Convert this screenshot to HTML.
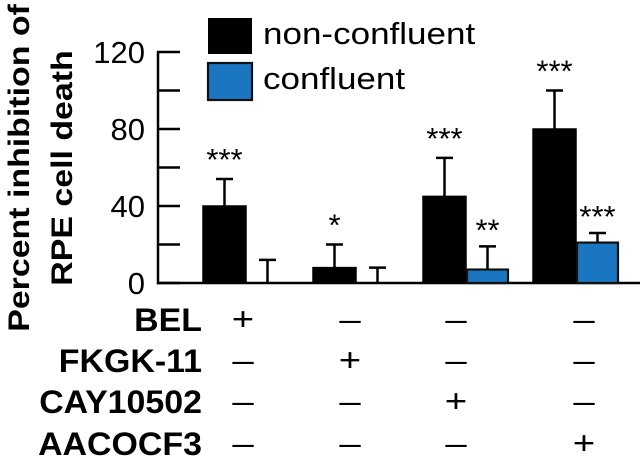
<!DOCTYPE html>
<html><head><meta charset="utf-8"><style>
html,body{margin:0;padding:0;background:#fff;width:640px;height:464px;overflow:hidden}
svg{display:block}
text{font-family:"Liberation Sans",Arial,sans-serif;fill:#000}
</style></head><body>
<svg id="chart" width="640" height="464" viewBox="0 0 640 464" xmlns="http://www.w3.org/2000/svg"></svg>
<script>
const categories = ["BEL", "FKGK-11", "CAY10502", "AACOCF3"];
const nonConfluent = [40, 8, 45, 80];
const nonConfluentErr = [14, 12, 20, 20];
const confluent = [0, 0, 7, 21];
const confluentErr = [12, 8, 12, 5];
const nonConfluentSig = ["***", "*", "***", "***"];
const confluentSig = ["", "", "**", "***"];
const yTicks = [0, 40, 80, 120];
const yMinorTicks = [20, 60, 100];
const treatments = ["BEL", "FKGK-11", "CAY10502", "AACOCF3"];

const svg = document.getElementById('chart');
const NS = 'http://www.w3.org/2000/svg';
const y0 = 283, pxPerUnit = 1.925;
function yScale(v){ return y0 - v * pxPerUnit; }
function xGroup(i){ return 203 + i * 110; }
const barW = 43, blueW = 41;
function mk(tag, attrs, parent){
  const e = document.createElementNS(NS, tag);
  for (const k in attrs) e.setAttribute(k, attrs[k]);
  (parent || svg).appendChild(e);
  return e;
}
function txt(str, x, y, size, weight, anchor, sx, name){
  const t = mk('text', {transform:`translate(${x},${y}) scale(${sx},1)`, 'font-size':size, 'font-weight':weight, 'text-anchor':anchor});
  t.textContent = str;
  
  
  return t;
}

// y axis title
const g1 = mk('g', {transform:'translate(29,168) rotate(-90)'});


const t1 = mk('text', {transform:'scale(1.13,1)', 'font-size':30, 'font-weight':'bold', 'text-anchor':'middle'}, g1);
t1.textContent = 'Percent inhibition of';
const g2 = mk('g', {transform:'translate(72,168) rotate(-90)'});


const t2 = mk('text', {transform:'scale(1.13,1)', 'font-size':30, 'font-weight':'bold', 'text-anchor':'middle'}, g2);
t2.textContent = 'RPE cell death';

// axis
const ax = mk('line', {x1:158, y1:yScale(120)-1, x2:158, y2:y0+1.2, stroke:'#000', 'stroke-width':2.5});


const bl = mk('line', {x1:157, y1:y0, x2:640, y2:y0, stroke:'#000', 'stroke-width':2.5});


yTicks.concat(yMinorTicks).forEach(v => {
  const l = mk('line', {x1:157, y1:yScale(v), x2:180, y2:yScale(v), stroke:'#000', 'stroke-width':2.5});
  
  
});
yTicks.forEach(v => {
  txt(String(v), 145, yScale(v) + 11, 31, 'normal', 'end', 1, 'y-tick-label');
});

// bars
function errBar(cx, top, val, name){
  const l = mk('line', {x1:cx, y1:yScale(val), x2:cx, y2:yScale(top), stroke:'#000', 'stroke-width':2.5});
  
  
  const c = mk('line', {x1:cx-8.5, y1:yScale(top), x2:cx+8.5, y2:yScale(top), stroke:'#000', 'stroke-width':2.5});
  
  
}
categories.forEach((c, i) => {
  const x = xGroup(i);
  const v = nonConfluent[i];
  const top = v + nonConfluentErr[i];
  errBar(x + barW/2, top, v, 'error-bar-nonconfluent');
  const r = mk('rect', {x:x, y:yScale(v), width:barW, height:y0 - yScale(v), fill:'#000', stroke:'#000', 'stroke-width':1.5});
  
  
  txt(nonConfluentSig[i], x + barW/2, yScale(top) - 9, 31, 'normal', 'middle', 1, 'significance-nonconfluent');

  const bx = x + barW + 1;
  const bv = confluent[i];
  const btop = bv + confluentErr[i];
  errBar(bx + blueW/2, btop, bv, 'error-bar-confluent');
  if (bv > 0) {
    const b = mk('rect', {x:bx, y:yScale(bv), width:blueW, height:y0 - yScale(bv), fill:'#1a76c1', stroke:'#111', 'stroke-width':2.2});
    
    
  }
  if (confluentSig[i]) txt(confluentSig[i], bx + blueW/2, yScale(btop) - 6, 31, 'normal', 'middle', 1, 'significance-confluent');
});

// legend
const lb = mk('rect', {x:208, y:18, width:44, height:36, fill:'#000'});


const lc = mk('rect', {x:208, y:63, width:44, height:37, fill:'#1a76c1', stroke:'#111', 'stroke-width':2.2});


txt('non-confluent', 263, 44, 31, 'normal', 'start', 1.13, 'legend-label-nonconfluent');
txt('confluent', 263, 89, 31, 'normal', 'start', 1.13, 'legend-label-confluent');

// treatment table
const rowY = [331, 372, 413, 455];
const colX = [243, 350, 456, 584];
treatments.forEach((t, r) => {
  txt(t, 202, rowY[r], 32, 'bold', 'end', 1.06, 'treatment-label-' + t.toLowerCase());
  categories.forEach((c, ci) => {
    txt(ci === r ? '+' : '–', colX[ci], rowY[r] - 1, 32, 'normal', 'middle', 1.2, 'treatment-mark');
  });
});
</script>
</body></html>
